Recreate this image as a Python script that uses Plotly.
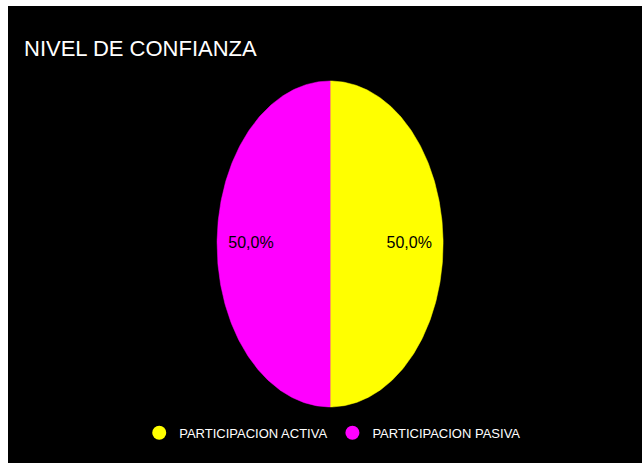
import numpy as np
import plotly.graph_objects as go

title = "NIVEL DE CONFIANZA"
categories = ["PARTICIPACION ACTIVA", "PARTICIPACION PASIVA"]
values = [50, 50]
colors = ["#FFFF00", "#FF00FF"]

FONT = "Liberation Sans, Arial, sans-serif"

total = sum(values)
fig = go.Figure()

start = 90.0  # degrees, 12 o'clock, clockwise
label_x, label_y, label_t = [], [], []
for cat, v, c in zip(categories, values, colors):
    span = 360.0 * v / total
    th = np.radians(np.linspace(start, start - span, 200))
    xs = np.concatenate([[0], np.cos(th), [0]])
    ys = np.concatenate([[0], np.sin(th), [0]])
    fig.add_trace(go.Scatter(x=xs, y=ys, fill="toself", fillcolor=c, mode="lines",
                             line=dict(color=c, width=0.5), hoverinfo="skip",
                             showlegend=False))
    mid = np.radians(start - span / 2)
    label_x.append(0.7 * np.cos(mid))
    label_y.append(0.7 * np.sin(mid))
    label_t.append(f"{v / total * 100:.1f}%".replace(".", ","))
    start -= span

fig.add_trace(go.Scatter(x=label_x, y=label_y, mode="text", text=label_t,
                         textfont=dict(family=FONT, size=16, color="black"),
                         hoverinfo="skip", showlegend=False))

for cat, c in zip(categories, colors):
    fig.add_trace(go.Scatter(x=[None], y=[None], mode="markers", name=cat,
                             marker=dict(symbol="circle", size=14, color=c)))

fig.update_layout(
    width=634, height=457,
    margin=dict(l=0, r=0, t=0, b=0),
    paper_bgcolor="black", plot_bgcolor="black",
    xaxis=dict(range=[-2.85, 2.76], visible=False, fixedrange=True),
    yaxis=dict(range=[-1.344, 1.46], visible=False, fixedrange=True),
    legend=dict(orientation="h", x=0.207, xanchor="left", y=0.066, yanchor="middle",
                font=dict(family=FONT, size=13, color="white"), bgcolor="rgba(0,0,0,0)"),
    annotations=[dict(text=title, xref="paper", yref="paper", x=0.022, y=0.908,
                      xanchor="left", yanchor="middle", showarrow=False,
                      font=dict(family=FONT, size=22, color="white"))],
)

fig.write_html("out.html",
               post_script="document.body.style.margin='6px 0 0 8px';document.body.style.overflow='hidden';")
